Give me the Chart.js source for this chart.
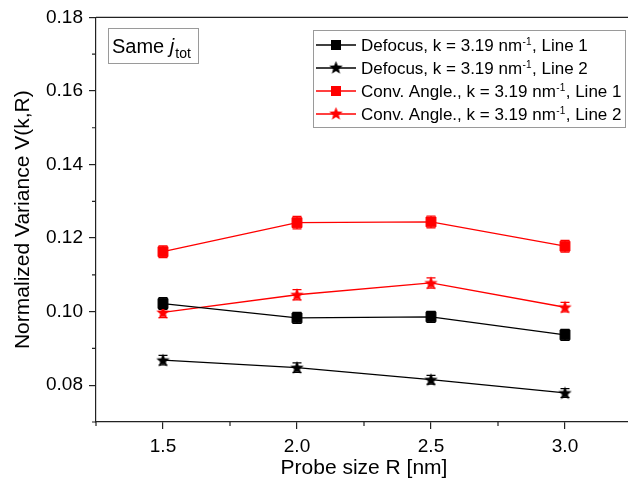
<!DOCTYPE html>
<html lang="en">
<head>
<meta charset="UTF-8">
<title>Normalized Variance</title>
<script src="https://cdn.jsdelivr.net/npm/chart.js"></script>
<style>
    body {
        margin: 0;
        padding: 0;
        background: #fff;
        overflow: hidden;
    }
    #wrap {
        position: absolute;
        left: 0;
        top: 0;
        width: 640px;
        height: 489px;
    }
</style>
</head>
<body>
<div id="wrap"><canvas id="varianceGraph" width="640" height="489"></canvas></div>
<script>
    const FONT = '"Liberation Sans", Arial, sans-serif';

    const probeSizes = [1.5, 2.0, 2.5, 3.0];

    const defocusLine1 = [0.1022, 0.0983, 0.0986, 0.0937];
    const defocusLine1Err = [0.0016, 0.0015, 0.0015, 0.0015];
    const defocusLine2 = [0.0868, 0.0848, 0.0815, 0.0779];
    const defocusLine2Err = [0.0013, 0.0013, 0.0012, 0.0012];
    const convLine1 = [0.1163, 0.1242, 0.1244, 0.1178];
    const convLine1Err = [0.0016, 0.0017, 0.0016, 0.0016];
    const convLine2 = [0.0998, 0.1046, 0.1078, 0.1012];
    const convLine2Err = [0.0014, 0.0014, 0.0014, 0.0013];

    const seriesNames = [
        'Defocus, k = 3.19 nm^-1, Line 1',
        'Defocus, k = 3.19 nm^-1, Line 2',
        'Conv. Angle., k = 3.19 nm^-1, Line 1',
        'Conv. Angle., k = 3.19 nm^-1, Line 2'
    ];

    const xTicks = [1.5, 2.0, 2.5, 3.0];
    const xMinorTicks = [1.25, 1.75, 2.25, 2.75, 3.25];
    const yTicks = [0.08, 0.10, 0.12, 0.14, 0.16, 0.18];
    const yMinorTicks = [0.07, 0.09, 0.11, 0.13, 0.15, 0.17];

    // filled five point star, used as point style
    const makeStar = (color) => {
        const c = document.createElement('canvas');
        c.width = 15;
        c.height = 15;
        const g = c.getContext('2d');
        g.beginPath();
        for (let i = 0; i < 10; i++) {
            const r = i % 2 === 0 ? 7 : 3;
            const a = -Math.PI / 2 + i * Math.PI / 5;
            const px = 7.5 + r * Math.cos(a);
            const py = 8 + r * Math.sin(a);
            if (i === 0) g.moveTo(px, py); else g.lineTo(px, py);
        }
        g.closePath();
        g.fillStyle = color;
        g.fill();
        return c;
    };

    const blackStar = makeStar('#000');
    const redStar = makeStar('#ff0000');

    const toPoints = (vals) => probeSizes.map((x, i) => ({ x: x, y: vals[i] }));

    const makeSet = (label, vals, errs, color, style) => ({
        label: label,
        data: toPoints(vals),
        errors: errs,
        borderColor: color,
        backgroundColor: color,
        borderWidth: 1.3,
        pointStyle: style,
        pointRadius: style === 'rect' ? 7 : 7,
        pointBorderWidth: 1,
        pointBorderColor: color,
        pointBackgroundColor: color,
        showLine: true,
        tension: 0
    });

    // draws "nm^-1" style text, returns nothing
    const drawRichText = (ctx, text, x, y, size) => {
        const parts = text.split('^');
        let cx = x;
        ctx.textAlign = 'left';
        ctx.textBaseline = 'alphabetic';
        parts.forEach((part, idx) => {
            if (idx === 0) {
                ctx.font = size + 'px ' + FONT;
                ctx.fillText(part, cx, y);
                cx += ctx.measureText(part).width;
            } else {
                const sup = part.slice(0, 2);
                const rest = part.slice(2);
                ctx.font = Math.round(size * 0.6) + 'px ' + FONT;
                ctx.fillText(sup, cx + 0.5, y - size * 0.38);
                cx += ctx.measureText(sup).width + 1;
                ctx.font = size + 'px ' + FONT;
                ctx.fillText(rest, cx, y);
                cx += ctx.measureText(rest).width;
            }
        });
    };

    const decorPlugin = {
        id: 'decor',
        beforeDatasetsDraw(chart) {
            const ctx = chart.ctx;
            const ys = chart.scales.y;
            ctx.save();
            chart.data.datasets.forEach((ds, di) => {
                const meta = chart.getDatasetMeta(di);
                ctx.strokeStyle = ds.borderColor;
                ctx.lineWidth = 1.2;
                meta.data.forEach((pt, i) => {
                    const v = ds.data[i].y;
                    const e = ds.errors[i];
                    const top = ys.getPixelForValue(v + e);
                    const bot = ys.getPixelForValue(v - e);
                    ctx.beginPath();
                    ctx.moveTo(pt.x, top);
                    ctx.lineTo(pt.x, bot);
                    ctx.moveTo(pt.x - 4.5, top);
                    ctx.lineTo(pt.x + 4.5, top);
                    ctx.moveTo(pt.x - 4.5, bot);
                    ctx.lineTo(pt.x + 4.5, bot);
                    ctx.stroke();
                });
            });
            ctx.restore();
        },
        afterDraw(chart) {
            const ctx = chart.ctx;
            const area = chart.chartArea;
            const xs = chart.scales.x;
            const ys = chart.scales.y;
            ctx.save();

            // frame on top / right
            ctx.strokeStyle = '#222';
            ctx.lineWidth = 1.2;
            ctx.beginPath();
            ctx.moveTo(area.left, area.top);
            ctx.lineTo(area.right, area.top);
            ctx.lineTo(area.right, area.bottom);
            ctx.stroke();

            // minor ticks
            ctx.beginPath();
            xMinorTicks.forEach(v => {
                const px = xs.getPixelForValue(v);
                ctx.moveTo(px, area.bottom);
                ctx.lineTo(px, area.bottom + 4);
            });
            yMinorTicks.forEach(v => {
                const py = ys.getPixelForValue(v);
                ctx.moveTo(area.left, py);
                ctx.lineTo(area.left - 4, py);
            });
            ctx.stroke();

            // axis titles
            ctx.fillStyle = '#000';
            ctx.font = '21px ' + FONT;
            ctx.textAlign = 'center';
            ctx.textBaseline = 'middle';
            ctx.fillText('Probe size R [nm]', (area.left + area.right) / 2, 468);
            ctx.save();
            ctx.translate(23, (area.top + area.bottom) / 2);
            ctx.rotate(-Math.PI / 2);
            ctx.fillText('Normalized Variance V(k,R)', 0, 0);
            ctx.restore();

            // "Same j_tot" box
            ctx.strokeStyle = '#9a9a9a';
            ctx.lineWidth = 1;
            ctx.strokeRect(108.5, 28.5, 90, 35);
            ctx.textAlign = 'left';
            ctx.textBaseline = 'alphabetic';
            ctx.font = '20px ' + FONT;
            ctx.fillText('Same ', 112, 53);
            let jx = 112 + ctx.measureText('Same ').width;
            ctx.font = 'italic 20px ' + FONT;
            ctx.fillText('j', jx, 53);
            jx += ctx.measureText('j').width + 1;
            ctx.font = '14px ' + FONT;
            ctx.fillText('tot', jx, 58);

            // legend
            ctx.strokeStyle = '#9a9a9a';
            ctx.strokeRect(313.5, 30.5, 312, 97);
            chart.data.datasets.forEach((ds, di) => {
                const rowY = 45 + di * 23;
                ctx.strokeStyle = ds.borderColor;
                ctx.lineWidth = 1.3;
                ctx.beginPath();
                ctx.moveTo(316, rowY);
                ctx.lineTo(356, rowY);
                ctx.stroke();
                if (ds.pointStyle === 'rect') {
                    ctx.fillStyle = ds.borderColor;
                    ctx.fillRect(331, rowY - 5, 10, 10);
                } else {
                    ctx.drawImage(ds.pointStyle, 336 - 7.5, rowY - 8);
                }
                ctx.fillStyle = '#000';
                drawRichText(ctx, seriesNames[di], 361, rowY + 6, 17);
            });
            ctx.restore();
        }
    };

    document.addEventListener('DOMContentLoaded', () => {
        const ctx = document.getElementById('varianceGraph').getContext('2d');

        new Chart(ctx, {
            type: 'line',
            data: {
                datasets: [
                    makeSet(seriesNames[0], defocusLine1, defocusLine1Err, '#000000', 'rect'),
                    makeSet(seriesNames[1], defocusLine2, defocusLine2Err, '#000000', blackStar),
                    makeSet(seriesNames[2], convLine1, convLine1Err, '#ff0000', 'rect'),
                    makeSet(seriesNames[3], convLine2, convLine2Err, '#ff0000', redStar)
                ]
            },
            options: {
                responsive: false,
                animation: false,
                layout: { padding: { left: 0, top: 15, right: 8, bottom: 0 } },
                plugins: {
                    legend: { display: false },
                    tooltip: { enabled: false }
                },
                scales: {
                    x: {
                        type: 'linear',
                        min: 1.25,
                        max: 3.25,
                        afterBuildTicks: (scale) => { scale.ticks = xTicks.map(v => ({ value: v })); },
                        afterFit: (scale) => { scale.height = 67; },
                        ticks: {
                            color: '#000',
                            font: { family: FONT, size: 19 },
                            padding: 6,
                            maxRotation: 0,
                            callback: (v) => Number(v).toFixed(1)
                        },
                        grid: { drawOnChartArea: false, tickLength: 7, color: '#222', lineWidth: 1.2 },
                        border: { display: true, color: '#222', width: 1.2 }
                    },
                    y: {
                        type: 'linear',
                        min: 0.07,
                        max: 0.18,
                        afterBuildTicks: (scale) => { scale.ticks = yTicks.map(v => ({ value: v })); },
                        afterFit: (scale) => { scale.width = 96; },
                        ticks: {
                            color: '#000',
                            font: { family: FONT, size: 19 },
                            padding: 6,
                            callback: (v) => Number(v).toFixed(2)
                        },
                        grid: { drawOnChartArea: false, tickLength: 7, color: '#222', lineWidth: 1.2 },
                        border: { display: true, color: '#222', width: 1.2 }
                    }
                }
            },
            plugins: [decorPlugin]
        });
    });
</script>
</body>
</html>
